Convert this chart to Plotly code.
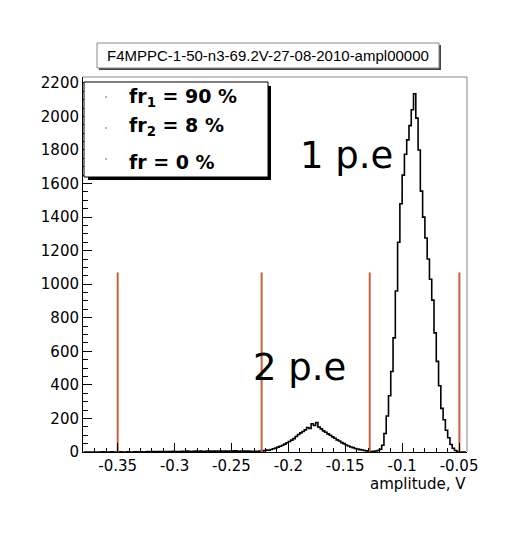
import numpy as np
import plotly.graph_objects as go

# ---------------- data ----------------
bin_lo = -0.380
bin_width = 0.002
# counts per bin (left noise region, 2 p.e. region, 1 p.e. region)
counts_noise = [0, 0, 0, 0, 0, 0, 0, 0, 1, 0, 0, 0, 1, 0, 0, 0, 1, 0, 0, 1, 0, 0, 1, 1, 0,
                1, 0, 1, 2, 1, 2, 1, 2, 3, 2, 2, 3, 2, 3, 4, 3, 2, 3, 4, 3, 5, 4, 3, 4, 5,
                4, 5, 3, 4, 6, 5, 4, 5, 6, 4, 5, 6, 5, 4, 6, 5, 7, 5, 4, 6, 5, 4, 5, 4, 3]
counts_2pe = [4, 3, 5, 6, 8, 11, 10, 15, 19, 24, 29, 34, 40, 47, 55, 63, 71, 80, 92, 104,
              114, 122, 132, 146, 140, 168, 158, 176, 148, 138, 126, 118, 108, 100, 90,
              82, 72, 66, 56, 50, 42, 36, 30, 26, 21, 18, 14, 12, 9, 7, 4]
counts_1pe = [3, 4, 6, 9, 16, 40, 110, 215, 335, 480, 680, 960, 1250, 1480, 1650, 1775,
              1860, 1945, 2040, 2135, 1990, 1800, 1555, 1400, 1275, 1150, 1030, 905, 710,
              540, 395, 260, 192, 130, 85, 45, 22, 9, 2, 0, 0, 0]

cut_positions = [-0.35, -0.2235, -0.1285, -0.0497]
cut_height = 1070

x_tick_vals = [-0.35, -0.3, -0.25, -0.2, -0.15, -0.1, -0.05]
x_tick_text = ["-0.35", "-0.3", "-0.25", "-0.2", "-0.15", "-0.1", "-0.05"]
y_tick_vals = [0, 200, 400, 600, 800, 1000, 1200, 1400, 1600, 1800, 2000, 2200]
y_tick_text = [str(v) for v in y_tick_vals]

title_text = "F4MPPC-1-50-n3-69.2V-27-08-2010-ampl00000"
legend_texts = ["<b>fr<sub>1</sub> = 90 %</b>", "<b>fr<sub>2</sub> = 8 %</b>", "<b>fr = 0 %</b>"]
x_title = "amplitude, V"

# ---------------- figure ----------------
counts = counts_noise + counts_2pe + counts_1pe
edges = bin_lo + bin_width * np.arange(len(counts) + 1)
y_step = counts + [counts[-1]]

OFF = 8  # page body margin
W, H = 509 - OFF, 540 - OFF
X0, Y0, X1, Y1 = 83, 77, 467, 452  # plot area in screenshot pixels
L, T = X0 - OFF, Y0 - OFF
R, B = W - (X1 - OFF), H - (Y1 - OFF)
pw, ph = X1 - X0, Y1 - Y0


def px(x):
    return (x - X0) / pw


def py(y):
    return (Y1 - y) / ph


fig = go.Figure()
fig.add_trace(go.Scatter(x=edges, y=y_step, mode="lines", line=dict(color="black", width=1.6, shape="hv"),
                         showlegend=False, hoverinfo="skip"))
for c in cut_positions:
    fig.add_trace(go.Scatter(x=[c, c], y=[0, cut_height], mode="lines",
                             line=dict(color="#c9603a", width=2), showlegend=False, hoverinfo="skip"))

tickfont = dict(family="DejaVu Sans", size=15, color="black")
fig.update_xaxes(range=[-0.3805, -0.043], tickvals=x_tick_vals, ticktext=x_tick_text, ticks="inside",
                 ticklen=9, tickcolor="black", tickwidth=1, showgrid=False, zeroline=False,
                 showline=True, linecolor="black", linewidth=1, mirror=False, tickfont=tickfont,
                 minor=dict(dtick=0.01, ticks="inside", ticklen=4, tickcolor="black", showgrid=False))
fig.update_yaxes(range=[0, 2235], tickvals=y_tick_vals, ticktext=y_tick_text, ticks="inside",
                 ticklen=9, tickcolor="black", tickwidth=1, showgrid=False, zeroline=False,
                 showline=True, linecolor="black", linewidth=1, mirror=False, tickfont=tickfont,
                 minor=dict(dtick=50, ticks="inside", ticklen=5, tickcolor="black", showgrid=False))

shapes = []
# frame top and right
shapes.append(dict(type="line", xref="paper", yref="paper", x0=0, x1=1, y0=1, y1=1,
                   line=dict(color="#888888", width=1)))
shapes.append(dict(type="line", xref="paper", yref="paper", x0=1, x1=1, y0=0, y1=1,
                   line=dict(color="#888888", width=1)))
# title box with shadow
shapes.append(dict(type="rect", xref="paper", yref="paper", x0=px(99), x1=px(441), y0=py(70), y1=py(45),
                   line=dict(width=0), fillcolor="#444444"))
shapes.append(dict(type="rect", xref="paper", yref="paper", x0=px(97), x1=px(439), y0=py(68), y1=py(43),
                   line=dict(color="#888888", width=1), fillcolor="white"))
# legend box with shadow
shapes.append(dict(type="rect", xref="paper", yref="paper", x0=px(88), x1=px(271), y0=py(180), y1=py(86),
                   line=dict(width=0), fillcolor="black"))
shapes.append(dict(type="rect", xref="paper", yref="paper", x0=px(84), x1=px(268), y0=py(177), y1=py(82),
                   line=dict(color="black", width=1), fillcolor="white"))
# legend tiny markers
for yy in [97, 128, 159]:
    shapes.append(dict(type="circle", xref="paper", yref="paper", x0=px(105), x1=px(107),
                       y0=py(yy + 1), y1=py(yy - 1), line=dict(width=0), fillcolor="#999999"))

annotations = []
annotations.append(dict(text=title_text, xref="paper", yref="paper", x=px(268), y=py(56),
                        xanchor="center", yanchor="middle", showarrow=False,
                        font=dict(family="Liberation Sans", size=15, color="black")))
for t, yy in zip(legend_texts, [97.5, 126, 162]):
    annotations.append(dict(text=t, xref="paper", yref="paper", x=px(127), y=py(yy),
                            xanchor="left", yanchor="middle", showarrow=False,
                            font=dict(family="DejaVu Sans", size=19, color="black")))
annotations.append(dict(text="1 p.e", xref="paper", yref="paper", x=px(298), y=py(155),
                        xanchor="left", yanchor="middle", showarrow=False,
                        font=dict(family="DejaVu Sans", size=37, color="black")))
annotations.append(dict(text="2 p.e", xref="paper", yref="paper", x=px(251), y=py(367),
                        xanchor="left", yanchor="middle", showarrow=False,
                        font=dict(family="DejaVu Sans", size=37, color="black")))
annotations.append(dict(text=x_title, xref="paper", yref="paper", x=px(468), y=py(484),
                        xanchor="right", yanchor="middle", showarrow=False,
                        font=dict(family="DejaVu Sans", size=15, color="black")))

fig.update_layout(width=W, height=H, margin=dict(l=L, r=R, t=T, b=B, autoexpand=False),
                  paper_bgcolor="white", plot_bgcolor="white", shapes=shapes, annotations=annotations,
                  showlegend=False)

fig.write_html("out.html")
